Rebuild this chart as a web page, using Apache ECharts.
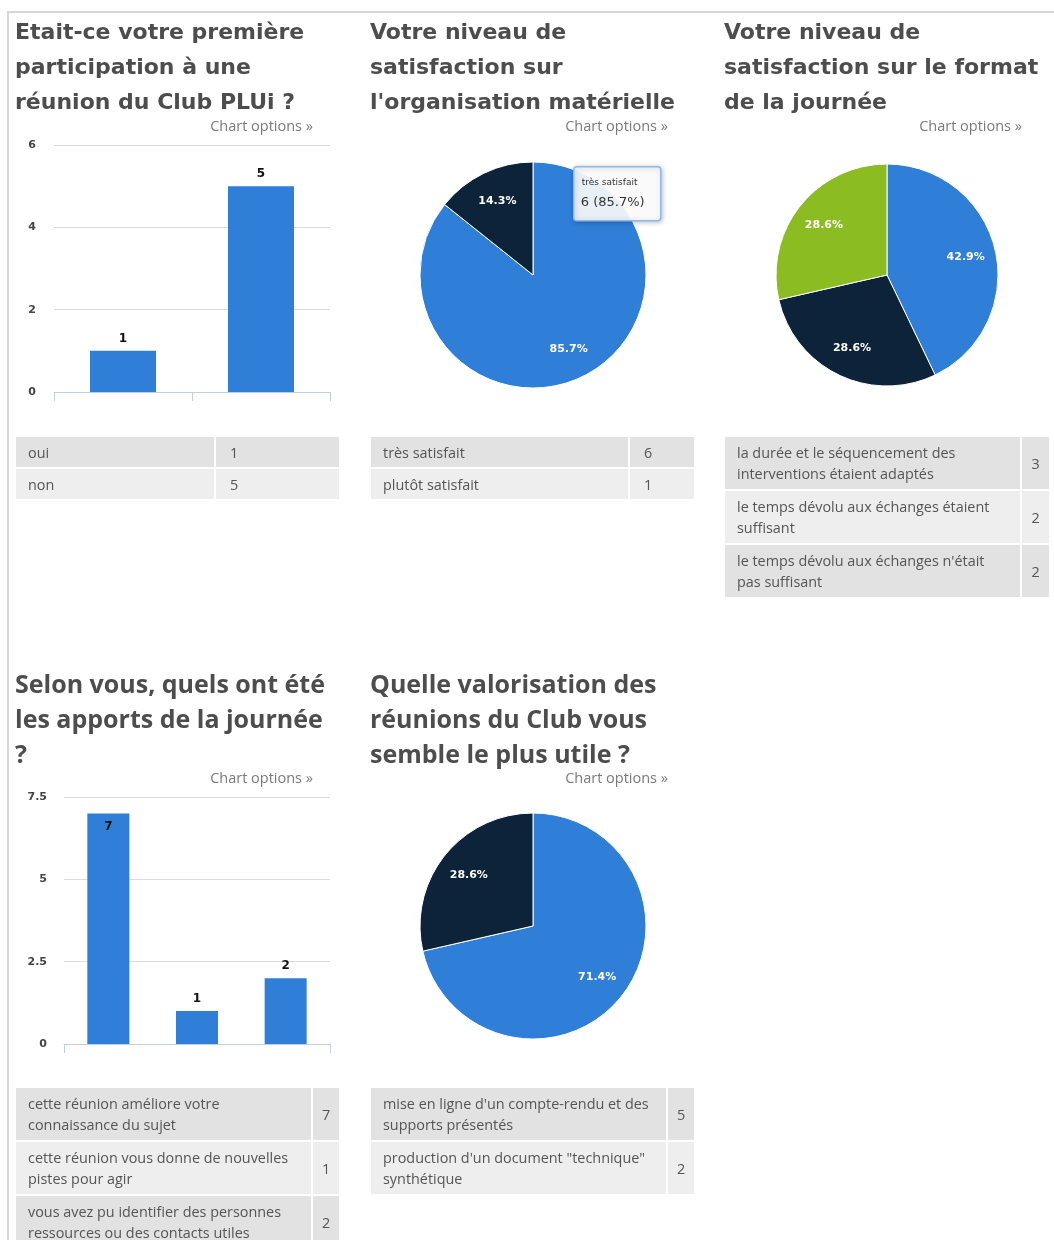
<!DOCTYPE html>
<html>
<head>
<meta charset="utf-8">
<title>Club PLUi - résumé des réponses</title>
<script src="https://cdn.jsdelivr.net/npm/echarts@6/dist/echarts.min.js"></script>
<style type="text/css">
	body {
		margin: 0;
		width: 1054px;
		height: 1240px;
		overflow: hidden;
		background: #fff;
		position: relative;
	}
	#frame {
		position: absolute;
		left: 7px;
		top: 11px;
		width: 1100px;
		height: 1300px;
		border-left: 2px solid #d6d6d6;
		border-top: 2px solid #d6d6d6;
	}
	#main {
		position: absolute;
		left: 0;
		top: 0;
		width: 1054px;
		height: 1240px;
	}
	.title {
		position: absolute;
		color: #4d4d4d;
		font-weight: bold;
		line-height: 35px;
		white-space: nowrap;
	}
	.row1 { font-family: "DejaVu Sans"; font-size: 22px; }
	.row2 { font-family: "Open Sans"; font-size: 25px; }
	.opts {
		position: absolute;
		font-family: "Open Sans";
		font-size: 14.5px;
		color: #7a7a7a;
		text-align: right;
	}
	table.res {
		position: absolute;
		border-collapse: collapse;
		font-family: "Open Sans";
		font-size: 14.4px;
		color: #555;
		line-height: 21px;
	}
	table.res td {
		border: 2px solid #fff;
		padding: 0 12px;
	}
	table.res tr:nth-child(odd) td { background: #e2e2e2; }
	table.res tr:nth-child(even) td { background: #eeeeee; }
</style>
</head>
<body>
	<div id="frame"></div>
	<div id="main"></div>
	<div id="overlay"></div>

<script type="text/javascript">
	var titles = [
		'Etait-ce votre première\nparticipation à une\nréunion du Club PLUi ?',
		'Votre niveau de\nsatisfaction sur\nl\'organisation matérielle',
		'Votre niveau de\nsatisfaction sur le format\nde la journée',
		'Selon vous, quels ont été\nles apports de la journée\n?',
		'Quelle valorisation des\nréunions du Club vous\nsemble le plus utile ?'
	];

	var q1Cats = ['oui', 'non'];
	var q1Vals = [1, 5];

	var q2Cats = ['très satisfait', 'plutôt satisfait'];
	var q2Vals = [6, 1];

	var q3Cats = [
		'la durée et le séquencement des interventions étaient adaptés',
		'le temps dévolu aux échanges étaient suffisant',
		'le temps dévolu aux échanges n\'était pas suffisant'
	];
	var q3Vals = [3, 2, 2];

	var q4Cats = [
		'cette réunion améliore votre connaissance du sujet',
		'cette réunion vous donne de nouvelles pistes pour agir',
		'vous avez pu identifier des personnes ressources ou des contacts utiles'
	];
	var q4Vals = [7, 1, 2];

	var q5Cats = [
		'mise en ligne d\'un compte-rendu et des supports présentés',
		'production d\'un document "technique" synthétique'
	];
	var q5Vals = [5, 2];

	var q1Ticks = { max: 6, interval: 2 };
	var q4Ticks = { max: 7.5, interval: 2.5 };

	var colors = ['#2f7ed8', '#0d233a', '#8bbc21'];
</script>

<script type="text/javascript">
	// titres, "Chart options" et tableaux en html
	var overlay = document.getElementById('overlay');
	var blocks = [
		{ x: 15,  y: 14,  row: 'row1', cats: q1Cats, vals: q1Vals, tTop: 436, tW: 325, c1: 198, rowH: 32, center: false },
		{ x: 370, y: 14,  row: 'row1', cats: q2Cats, vals: q2Vals, tTop: 436, tW: 325, c1: 257, rowH: 32, center: false },
		{ x: 724, y: 14,  row: 'row1', cats: q3Cats, vals: q3Vals, tTop: 436, tW: 326, c1: 295, rowH: 54, center: true },
		{ x: 15,  y: 666, row: 'row2', cats: q4Cats, vals: q4Vals, tTop: 1087, tW: 325, c1: 295, rowH: 54, center: true },
		{ x: 370, y: 666, row: 'row2', cats: q5Cats, vals: q5Vals, tTop: 1087, tW: 325, c1: 295, rowH: 54, center: true }
	];
	var html = '';
	blocks.forEach(function(b, i) {
		html += '<div class="title ' + b.row + '" style="left:' + b.x + 'px;top:' + b.y + 'px">' +
			titles[i].split('\n').join('<br>') + '</div>';
		html += '<div class="opts" style="left:' + b.x + 'px;top:' + (b.y + 102) + 'px;width:298px">Chart options »</div>';
		html += '<table class="res" style="left:' + (b.x - 1) + 'px;top:' + (b.tTop - 1) + 'px;width:' + (b.tW + 2) + 'px">';
		for (var k = 0; k < b.cats.length; k++) {
			html += '<tr style="height:' + b.rowH + 'px"><td style="width:' + (b.c1 - 24) + 'px">' + b.cats[k] + '</td>' +
				'<td style="' + (b.center ? 'text-align:center;padding:0;' : 'padding-left:14px;') + '">' + b.vals[k] + '</td></tr>';
		}
		html += '</table>';
	});
	overlay.innerHTML = html;
</script>

<script type="text/javascript">
	var myChart = echarts.init(document.getElementById('main'));

	var labelFont = 'DejaVu Sans';

	function pct(vals) {
		var sum = 0;
		vals.forEach(function(v) { sum += v; });
		return function(p) { return (p.value / sum * 100).toFixed(1) + '%'; };
	}

	function barData(vals, max) {
		// comme highcharts : le label passe dans la barre s'il n'y a plus de place au dessus
		return vals.map(function(v) {
			if (v / max > 0.9) {
				return { value: v, label: { position: 'insideTop', distance: 7 } };
			}
			return v;
		});
	}

	function pieSeries(cats, vals, cx, cy, r) {
		var data = cats.map(function(c, i) {
			return { name: c, value: vals[i], itemStyle: { color: colors[i] } };
		});
		var ghost = cats.map(function(c, i) {
			return { name: c, value: vals[i], itemStyle: { color: 'rgba(0,0,0,0)' } };
		});
		return [{
			type: 'pie',
			center: [cx, cy],
			radius: [0, r],
			startAngle: 90,
			clockwise: true,
			silent: true,
			data: data,
			itemStyle: { borderColor: '#fff', borderWidth: 1 },
			label: { show: false },
			labelLine: { show: false }
		}, {
			// anneau invisible, juste pour placer les pourcentages a ~0.7 du rayon
			type: 'pie',
			center: [cx, cy],
			radius: [r * 0.4, r],
			startAngle: 90,
			clockwise: true,
			silent: true,
			data: ghost,
			itemStyle: { borderWidth: 0 },
			label: {
				show: true,
				position: 'inside',
				formatter: pct(vals),
				color: '#fff',
				fontFamily: labelFont,
				fontWeight: 'bold',
				fontSize: 11
			},
			labelLine: { show: false }
		}];
	}

	function valueAxis(grid, t, margin) {
		return {
			gridIndex: grid,
			type: 'value',
			min: 0,
			max: t.max,
			interval: t.interval,
			axisLine: { show: false },
			axisTick: { show: false },
			splitLine: { lineStyle: { color: '#dcdcdc', width: 1 } },
			axisLabel: { color: '#444', fontFamily: labelFont, fontWeight: 'bold', fontSize: 11, margin: margin }
		};
	}

	function catAxis(grid, cats) {
		return {
			gridIndex: grid,
			type: 'category',
			data: cats,
			offset: 1,
			axisLine: { lineStyle: { color: '#c0d0e0', width: 1 } },
			axisTick: { show: true, length: 9, lineStyle: { color: '#c0d0e0' } },
			axisLabel: { show: false }
		};
	}

	var barLabel = {
		show: true,
		position: 'top',
		distance: 6,
		color: '#111',
		fontFamily: labelFont,
		fontWeight: 'bold',
		fontSize: 12
	};

	var tip = q2Cats[0];
	var tipVal = q2Vals[0] + ' (' + (q2Vals[0] / (q2Vals[0] + q2Vals[1]) * 100).toFixed(1) + '%)';

	var option = {
		animation: false,
		color: colors,
		grid: [
			{ left: 54, top: 145, width: 276, height: 247 },
			{ left: 64, top: 797, width: 266, height: 247 }
		],
		xAxis: [catAxis(0, q1Cats), catAxis(1, q4Cats)],
		yAxis: [valueAxis(0, q1Ticks, 18), valueAxis(1, q4Ticks, 17)],
		series: [{
			type: 'bar',
			xAxisIndex: 0,
			yAxisIndex: 0,
			data: barData(q1Vals, q1Ticks.max),
			barWidth: 66,
			itemStyle: { color: colors[0] },
			label: barLabel
		}, {
			type: 'bar',
			xAxisIndex: 1,
			yAxisIndex: 1,
			data: barData(q4Vals, q4Ticks.max),
			barWidth: 42,
			itemStyle: { color: colors[0] },
			label: barLabel
		}].concat(
			pieSeries(q2Cats, q2Vals, 533, 275, 113),
			pieSeries(q3Cats, q3Vals, 887, 275, 111),
			pieSeries(q5Cats, q5Vals, 533, 926, 113)
		),
		graphic: [{
			type: 'group',
			left: 573,
			top: 166,
			z: 100,
			children: [{
				type: 'rect',
				z: 100,
				shape: { x: 0, y: 0, width: 87, height: 54, r: 3 },
				style: {
					fill: 'rgba(255,255,255,0.9)',
					stroke: '#8fb8ea',
					lineWidth: 1.5,
					shadowBlur: 5,
					shadowOffsetX: 1,
					shadowOffsetY: 1,
					shadowColor: 'rgba(0,0,0,0.25)'
				}
			}, {
				type: 'text',
				z: 101,
				x: 8,
				y: 16,
				style: { text: tip, fontFamily: labelFont, fontSize: 9, fill: '#333', verticalAlign: 'middle' }
			}, {
				type: 'text',
				z: 101,
				x: 7,
				y: 36,
				style: { text: tipVal, fontFamily: labelFont, fontSize: 13, fill: '#333', verticalAlign: 'middle' }
			}]
		}]
	};

	myChart.setOption(option);
</script>
</body>
</html>
